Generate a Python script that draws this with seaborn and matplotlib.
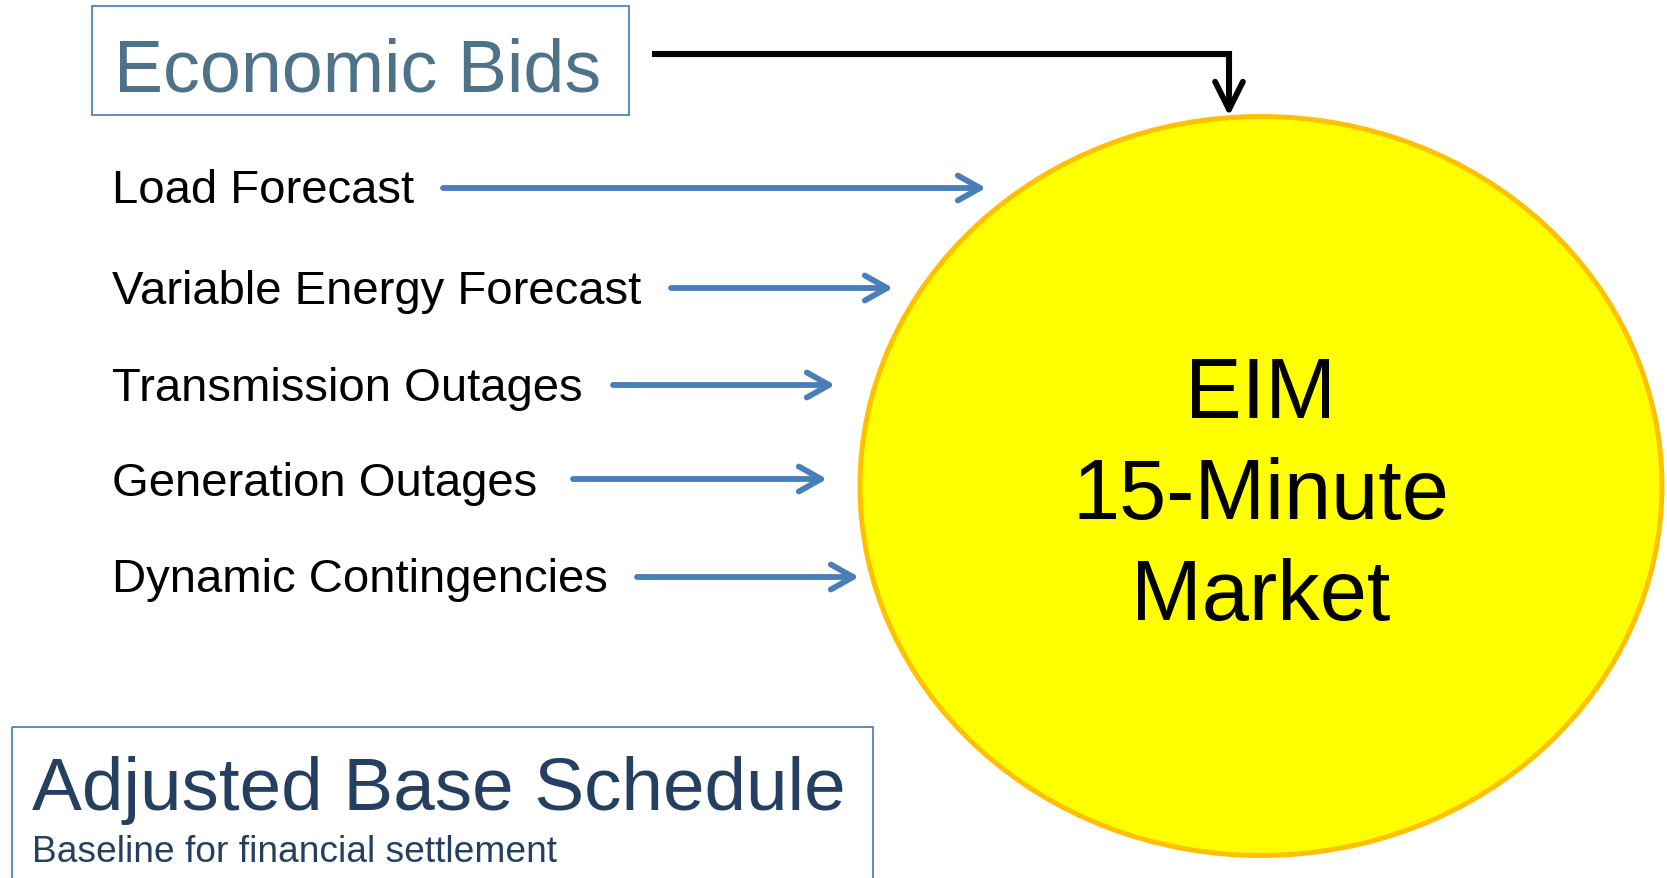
import matplotlib
matplotlib.use("Agg")
import matplotlib.pyplot as plt
from matplotlib.patches import Ellipse, Rectangle, FancyArrowPatch
import seaborn as sns

# ---- content ----
title_top = "Economic Bids"
inputs = ["Load Forecast", "Variable Energy Forecast", "Transmission Outages",
          "Generation Outages", "Dynamic Contingencies"]
center_lines = ["EIM", "15-Minute", "Market"]
bottom_title = "Adjusted Base Schedule"
bottom_sub = "Baseline for financial settlement"

# ---- layout (pixel coordinates, y downward) ----
label_x = 112
label_base = [203, 304, 401, 496, 592]
arrow_y = [189, 289, 386, 480, 578]
arrow_x0 = [443, 671, 613, 573, 637]
arrow_x1 = [986, 893, 835, 827, 859]

W, H = 1667, 879
sns.set_theme(style="white")
plt.rcParams['font.family'] = ['Liberation Sans', 'DejaVu Sans']

fig = plt.figure(figsize=(W / 100, H / 100), dpi=100)
ax = fig.add_axes([0, 0, 1, 1])
ax.set_xlim(0, W)
ax.set_ylim(H, 0)
ax.axis("off")

blue = "#4A7EBB"

# ellipse
ax.add_patch(Ellipse((1261, 487), 802, 739, facecolor="#FFFF00",
                     edgecolor="#FFC000", lw=3.6, zorder=1))
for i, line in enumerate(center_lines):
    ax.text(1261, 418 + 101 * i, line, ha="center", va="baseline",
            fontsize=61, color="black", zorder=3)

# Economic Bids box
ax.add_patch(Rectangle((92, 7), 537, 109, facecolor="none",
                       edgecolor="#4F81BD", lw=1.3, zorder=2))
ax.text(114, 91, title_top, ha="left", va="baseline", fontsize=53,
        color="#4E7389", zorder=3)

# black connector
ax.plot([652, 1229, 1229], [55, 55, 95], color="black", lw=4.4,
        solid_joinstyle="miter", solid_capstyle="butt", zorder=2)
ax.add_patch(FancyArrowPatch((1229, 78), (1229, 117),
                             arrowstyle="->,head_length=20,head_width=10",
                             mutation_scale=1, color="black", lw=4.2,
                             capstyle="round", joinstyle="round", zorder=4,
                             shrinkA=0, shrinkB=0))

# input labels and arrows
for lab, yb, ya, x0, x1 in zip(inputs, label_base, arrow_y, arrow_x0, arrow_x1):
    ax.text(label_x, yb, lab, ha="left", va="baseline", fontsize=34,
            color="black", zorder=3)
    ax.add_patch(FancyArrowPatch((x0, ya), (x1, ya),
                                 arrowstyle="->,head_length=16,head_width=9",
                                 mutation_scale=1, color=blue, lw=4.2,
                                 capstyle="round", joinstyle="round",
                                 shrinkA=0, shrinkB=0, zorder=4))

# Adjusted Base Schedule box
ax.add_patch(Rectangle((12, 728), 861, 200, facecolor="none",
                       edgecolor="#4F81BD", lw=1.3, zorder=2, clip_on=True))
ax.text(32, 810, bottom_title, ha="left", va="baseline", fontsize=53.8,
        color="#243F60", zorder=3)
ax.text(32, 862, bottom_sub, ha="left", va="baseline", fontsize=26.7,
        color="#243F60", zorder=3)

fig.savefig("out.png", dpi=100, facecolor="white")
